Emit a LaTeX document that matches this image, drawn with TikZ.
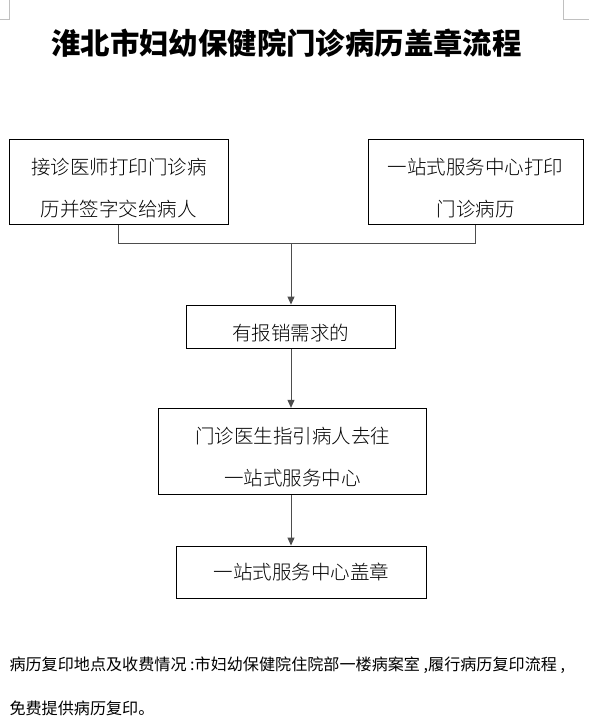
\documentclass[tikz,border=0pt]{standalone}
\usepackage{fontspec}
\newfontfamily\cjk{Noto Sans CJK SC}
\newfontfamily\cjklight{Noto Sans CJK SC Light}
\usepackage{tikz}
\usetikzlibrary{arrows.meta, positioning, calc}
\definecolor{fllink}{HTML}{4D4D4D}
\definecolor{flmark}{HTML}{C0C0C0}

\begin{document}
\begin{tikzpicture}[x=1pt, y=-1pt, line width=1pt,
          stepbox/.style={draw=black, inner sep=0pt, align=center, font=\cjklight\fontsize{19.5}{42}\selectfont},
          lowtext/.style={text height=#1},
          link/.style={draw=fllink},
          flow/.style={link, -{Triangle[length=8pt, width=7pt]}}]
          \useasboundingbox (0,0) rectangle (589,726);
          % page corner marks
          \draw[flmark] (9,0) -- (9,19) -- (0,19);
          \draw[flmark] (563,0) -- (563,19) -- (589,19);
          \node[font=\cjk\bfseries\fontsize{29.4}{32}\selectfont] (title) at (286.5,43) {淮北市妇幼保健院门诊病历盖章流程};
          \node[stepbox, lowtext=72pt, minimum width=219pt, minimum height=84.7pt] (doc) at (118.8,181.7) {接诊医师打印门诊病\\历并签字交给病人};
          \node[stepbox, lowtext=72pt, minimum width=215pt, minimum height=84.7pt] (center) at (475.5,181.7) {一站式服务中心打印\\门诊病历};
          \node[stepbox, lowtext=29pt, minimum width=209.7pt, minimum height=43.3pt] (claim) at (290.9,326.7) {有报销需求的};
          \node[stepbox, lowtext=70pt, minimum width=268.4pt, minimum height=85.7pt] (guide) at (292.5,451.2) {门诊医生指引病人去往\\一站式服务中心};
          \node[stepbox, minimum width=250pt, minimum height=52.3pt] (seal) at (301.7,572.2) {一站式服务中心盖章};
          \coordinate (join) at (291,243.3);
          \draw[link] (doc.south) -- (doc.south |- join) -- (center.south |- join) -- (center.south);
          \draw[flow] (join) -- (join |- claim.north);
          \draw[flow] (join |- claim.south) -- (join |- guide.north);
          \draw[flow] (join |- guide.south) -- (join |- seal.north);
          \node[anchor=west, inner sep=0pt, font=\cjk\fontsize{16.1}{18}\selectfont] (note) at (9,665) {病历复印地点及收费情况 :市妇幼保健院住院部一楼病案室 ,履行病历复印流程 ,};
          \node[anchor=west, inner sep=0pt, font=\cjk\fontsize{16.1}{18}\selectfont] (fee) at (9,708) {免费提供病历复印。};
        \end{tikzpicture}
\end{document}
